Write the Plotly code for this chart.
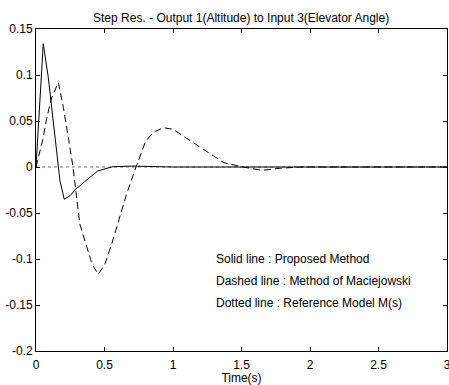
import plotly.graph_objects as go

t_solid = [0, 0.025, 0.053, 0.09, 0.126, 0.151, 0.175, 0.206, 0.25, 0.29, 0.365, 0.45, 0.56, 0.7, 0.85, 1.0, 1.5, 2.0, 2.5, 3.0]
y_solid = [0, 0.063, 0.134, 0.097, 0.05, 0.017, -0.015, -0.035, -0.031, -0.024, -0.0152, -0.0043, 0.0003, 0.001, 0.0005, 0, 0, 0, 0, 0]

t_dash = [0, 0.022, 0.05, 0.078, 0.114, 0.163, 0.2, 0.236, 0.27, 0.32, 0.37, 0.41, 0.455, 0.504, 0.552, 0.6, 0.66, 0.73, 0.8, 0.86, 0.93, 1.0, 1.1, 1.2, 1.29, 1.37, 1.51, 1.65, 1.78, 1.93, 2.2, 2.5, 3.0]
y_dash = [0, 0.014, 0.03, 0.053, 0.075, 0.092, 0.0645, 0.032, 0, -0.062, -0.086, -0.106, -0.1167, -0.105, -0.084, -0.059, -0.03, 0, 0.028, 0.038, 0.0427, 0.041, 0.031, 0.021, 0.012, 0.0047, 0, -0.0036, -0.0014, 0, 0, 0, 0]

t_dot = [0, 3.0]
y_dot = [0, 0]

x_ticks = [0, 0.5, 1, 1.5, 2, 2.5, 3]
x_labels = ["0", "0.5", "1", "1.5", "2", "2.5", "3"]
y_ticks = [-0.2, -0.15, -0.1, -0.05, 0, 0.05, 0.1, 0.15]
y_labels = ["-0.2", "-0.15", "-0.1", "-0.05", "0", "0.05", "0.1", "0.15"]

notes = ["Solid line : Proposed Method", "Dashed line : Method of Maciejowski", "Dotted line : Reference Model M(s)"]
note_y = [-0.1, -0.124, -0.148]

font = "Liberation Sans, Arial, sans-serif"

fig = go.Figure()
fig.add_trace(go.Scatter(x=t_dot, y=y_dot, mode="lines",
                         line=dict(color="#777777", width=1, dash="dot")))
fig.add_trace(go.Scatter(x=t_dash, y=y_dash, mode="lines",
                         line=dict(color="black", width=1, dash="7px,4px")))
fig.add_trace(go.Scatter(x=t_solid, y=y_solid, mode="lines",
                         line=dict(color="black", width=1)))

for txt, yy in zip(notes, note_y):
    fig.add_annotation(x=1.3, y=yy, text=txt, showarrow=False, xanchor="left",
                       yanchor="middle", font=dict(size=12, color="black", family=font))

fig.update_layout(
    width=449, height=385,
    margin=dict(l=36, r=2, t=29, b=34, autoexpand=False),
    paper_bgcolor="white", plot_bgcolor="white",
    showlegend=False,
    font=dict(family=font, size=12, color="black"),
    title=dict(text="Step Res. - Output 1(Altitude) to Input 3(Elevator Angle)",
               x=0.537, xanchor="center", y=0.955, yanchor="middle",
               font=dict(size=12, color="black", family=font)),
)
fig.update_xaxes(range=[0, 3], tickvals=x_ticks, ticktext=x_labels,
                 showgrid=False, zeroline=False, showline=True, linecolor="black",
                 linewidth=1, mirror="ticks", ticks="inside", ticklen=4,
                 tickcolor="black", ticklabeloverflow="allow", ticklabelstandoff=3,
                 automargin=False,
                 title=dict(text="Time(s)", standoff=1, font=dict(size=12)),
                 tickfont=dict(size=12))
fig.update_yaxes(range=[-0.2, 0.15], tickvals=y_ticks, ticktext=y_labels,
                 showgrid=False, zeroline=False, showline=True, linecolor="black",
                 linewidth=1, mirror="ticks", ticks="inside", ticklen=4,
                 automargin=False,
                 tickcolor="black", tickfont=dict(size=12))

fig.write_html("out.html")
